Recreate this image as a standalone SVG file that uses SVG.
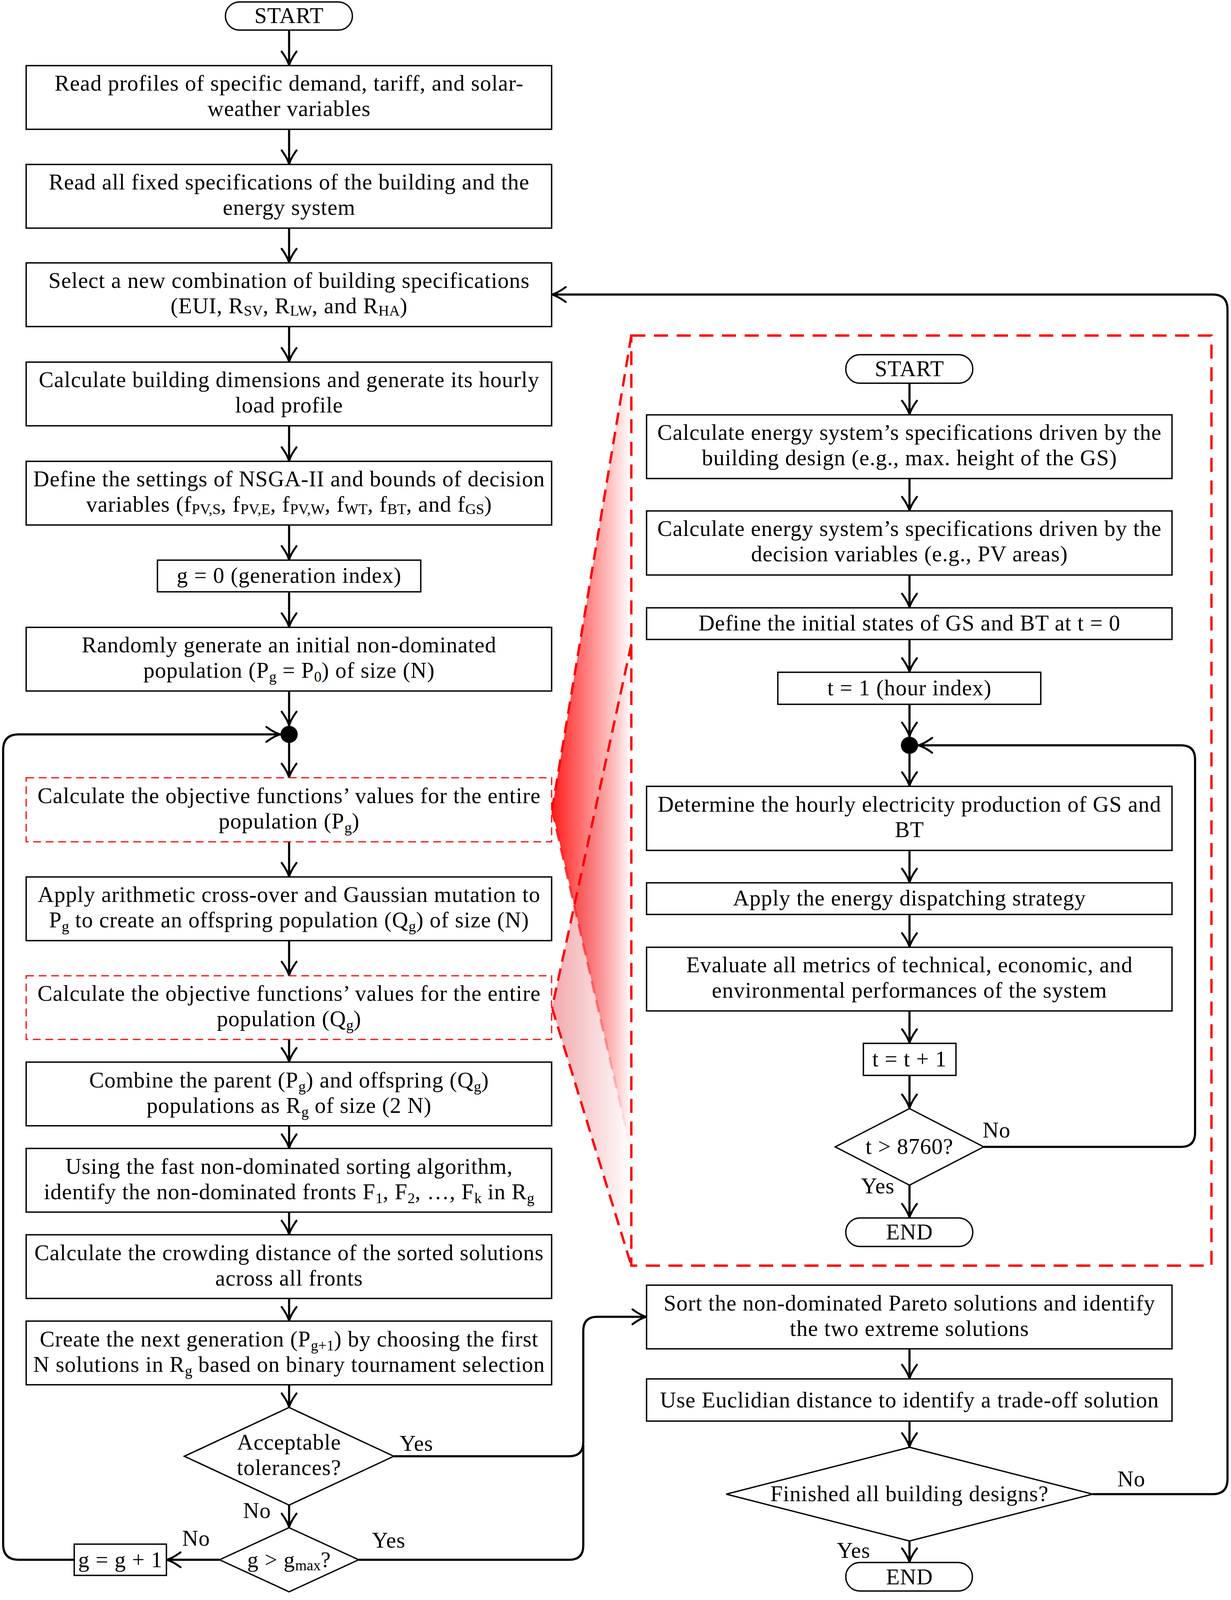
<svg xmlns="http://www.w3.org/2000/svg" width="3151" height="4336" viewBox="0 0 3151 4336">
<style>
.box{fill:#fff;stroke:#000;stroke-width:3.5}
.rbox{fill:#fff;stroke:#ff0000;stroke-width:3;stroke-dasharray:20 12}
.t{font-family:"Liberation Serif","Times New Roman",serif;font-size:57px;letter-spacing:1px;text-anchor:middle;fill:#000}
.s{font-size:38px;letter-spacing:0}
.c{fill:none;stroke:#000;stroke-width:5.5;marker-end:url(#arr)}
.cn{fill:none;stroke:#000;stroke-width:5.5}
.cone{fill:none;stroke:#ff0000;stroke-width:6;stroke-dasharray:32 18}
</style>
<defs>
<marker id="arr" markerUnits="userSpaceOnUse" orient="auto" viewBox="-42 -24 46 48" refX="0" refY="0" markerWidth="46" markerHeight="48">
<path d="M-36,-19 Q-14,-3 0,0 Q-14,3 -36,19" fill="none" stroke="#000" stroke-width="5" stroke-linecap="round"/>
</marker>
<linearGradient id="g1" gradientUnits="userSpaceOnUse" x1="1413" y1="0" x2="1616" y2="0">
<stop offset="0" stop-color="#ff1a1a" stop-opacity="1"/>
<stop offset="1" stop-color="#ff1a1a" stop-opacity="0"/>
</linearGradient>
<linearGradient id="g2" gradientUnits="userSpaceOnUse" x1="1413" y1="0" x2="1616" y2="0">
<stop offset="0" stop-color="#e0303a" stop-opacity="0.42"/>
<stop offset="1" stop-color="#e0303a" stop-opacity="0"/>
</linearGradient>
</defs>
<rect width="3151" height="4336" fill="#fff"/>

<g id="zoom-cones">
<polygon points="1616,859 1413,2073 1616,2950" fill="url(#g1)"/>
<polygon points="1616,1649 1413,2580 1616,3240" fill="url(#g2)"/>
<line class="cone" x1="1616" y1="859" x2="1413" y2="2073"/>
<line class="cone" x1="1413" y1="2073" x2="1616" y2="2950" style="stroke:url(#g1)"/>
<line class="cone" x1="1616" y1="1649" x2="1413" y2="2580"/>
<line class="cone" x1="1413" y1="2580" x2="1616" y2="3240"/>
</g>
<g id="detail-frame">
<rect x="1616" y="859" width="1485" height="2381" fill="none" stroke="#ff0000" stroke-width="6" stroke-dasharray="36 22"/>
</g>

<g id="connectors">
<line class="c" x1="740" y1="77" x2="740" y2="168"/>
<line class="c" x1="740" y1="331" x2="740" y2="421"/>
<line class="c" x1="740" y1="584" x2="740" y2="673"/>
<line class="c" x1="740" y1="836" x2="740" y2="927"/>
<line class="c" x1="740" y1="1090" x2="740" y2="1181"/>
<line class="c" x1="740" y1="1344" x2="740" y2="1434"/>
<line class="c" x1="740" y1="1515" x2="740" y2="1606"/>
<line class="c" x1="740" y1="1769" x2="740" y2="1858"/>
<line class="c" x1="740" y1="1902" x2="740" y2="1991"/>
<line class="c" x1="740" y1="2155" x2="740" y2="2245"/>
<line class="c" x1="740" y1="2408" x2="740" y2="2498"/>
<line class="c" x1="740" y1="2661" x2="740" y2="2719"/>
<line class="c" x1="740" y1="2882" x2="740" y2="2940"/>
<line class="c" x1="740" y1="3103" x2="740" y2="3161"/>
<line class="c" x1="740" y1="3324" x2="740" y2="3382"/>
<line class="c" x1="740" y1="3545" x2="740" y2="3603"/>
<line class="c" x1="740" y1="3853" x2="740" y2="3911"/>
<path class="c" d="M562,3993 H426"/>
<path class="c" d="M190,3993 H48 Q8,3993 8,3953 V1920 Q8,1880 48,1880 H718"/>
<path class="c" d="M1008,3728 H1457 Q1493,3728 1493,3692 V3407 Q1493,3371 1529,3371 H1655"/>
<path class="cn" d="M918,3993 H1457 Q1493,3993 1493,3957 V3700"/>
<line class="c" x1="2328" y1="981" x2="2328" y2="1062"/>
<line class="c" x1="2328" y1="1225" x2="2328" y2="1308"/>
<line class="c" x1="2328" y1="1472" x2="2328" y2="1556"/>
<line class="c" x1="2328" y1="1637" x2="2328" y2="1721"/>
<line class="c" x1="2328" y1="1803" x2="2328" y2="1886"/>
<line class="c" x1="2328" y1="1930" x2="2328" y2="2013"/>
<line class="c" x1="2328" y1="2177" x2="2328" y2="2260"/>
<line class="c" x1="2328" y1="2341" x2="2328" y2="2425"/>
<line class="c" x1="2328" y1="2588" x2="2328" y2="2671"/>
<line class="c" x1="2328" y1="2753" x2="2328" y2="2838"/>
<line class="c" x1="2328" y1="3034" x2="2328" y2="3118"/>
<path class="c" d="M2518,2936 H3023 Q3059,2936 3059,2900 V1944 Q3059,1908 3023,1908 H2350"/>
<line class="c" x1="2328" y1="3453" x2="2328" y2="3530"/>
<line class="c" x1="2328" y1="3638" x2="2328" y2="3705"/>
<line class="c" x1="2328" y1="3945" x2="2328" y2="4000"/>
<path class="c" d="M2797,3825 H3104 Q3142,3825 3142,3787 V792 Q3142,754 3104,754 H1412"/>
</g>

<g id="start"><rect class="box" x="577" y="5" width="325" height="72" rx="36"/><text class="t" x="740" y="59">START</text></g>
<g id="read-profiles"><rect class="box" x="67" y="168" width="1345" height="163"/>
<text class="t" x="740" y="232">Read profiles of specific demand, tariff, and solar-</text>
<text class="t" x="740" y="297">weather variables</text></g>
<g id="read-fixed"><rect class="box" x="67" y="421" width="1345" height="163"/>
<text class="t" x="740" y="485">Read all fixed specifications of the building and the</text>
<text class="t" x="740" y="550">energy system</text></g>
<g id="select-combination"><rect class="box" x="67" y="673" width="1345" height="163"/>
<text class="t" x="740" y="737">Select a new combination of building specifications</text>
<text class="t" x="740" y="802">(EUI, R<tspan class="s" dy="6">SV</tspan><tspan dy="-6">, R</tspan><tspan class="s" dy="6">LW</tspan><tspan dy="-6">, and R</tspan><tspan class="s" dy="6">HA</tspan><tspan dy="-6">)</tspan></text></g>
<g id="building-dimensions"><rect class="box" x="67" y="927" width="1345" height="163"/>
<text class="t" x="740" y="991">Calculate building dimensions and generate its hourly</text>
<text class="t" x="740" y="1056">load profile</text></g>
<g id="nsga-settings"><rect class="box" x="67" y="1181" width="1345" height="163"/>
<text class="t" x="740" y="1245">Define the settings of NSGA-II and bounds of decision</text>
<text class="t" x="740" y="1310">variables (f<tspan class="s" dy="6">PV,S</tspan><tspan dy="-6">, f</tspan><tspan class="s" dy="6">PV,E</tspan><tspan dy="-6">, f</tspan><tspan class="s" dy="6">PV,W</tspan><tspan dy="-6">, f</tspan><tspan class="s" dy="6">WT</tspan><tspan dy="-6">, f</tspan><tspan class="s" dy="6">BT</tspan><tspan dy="-6">, and f</tspan><tspan class="s" dy="6">GS</tspan><tspan dy="-6">)</tspan></text></g>
<g id="g-zero"><rect class="box" x="403" y="1434" width="674" height="81"/>
<text class="t" x="740" y="1492">g = 0 (generation index)</text></g>
<g id="random-init"><rect class="box" x="67" y="1606" width="1345" height="163"/>
<text class="t" x="740" y="1670">Randomly generate an initial non-dominated</text>
<text class="t" x="740" y="1735">population (P<tspan class="s" dy="10">g</tspan><tspan dy="-10"> = P</tspan><tspan class="s" dy="10">0</tspan><tspan dy="-10">) of size (N)</tspan></text></g>
<g id="junction-left"><circle cx="740" cy="1880" r="22" fill="#000"/></g>
<g id="objective-pg"><rect class="rbox" x="67" y="1991" width="1345" height="164"/>
<text class="t" x="740" y="2056">Calculate the objective functions’ values for the entire</text>
<text class="t" x="740" y="2121">population (P<tspan class="s" dy="10">g</tspan><tspan dy="-10">)</tspan></text></g>
<g id="crossover"><rect class="box" x="67" y="2245" width="1345" height="163"/>
<text class="t" x="740" y="2309">Apply arithmetic cross-over and Gaussian mutation to</text>
<text class="t" x="740" y="2374">P<tspan class="s" dy="10">g</tspan><tspan dy="-10"> to create an offspring population (Q</tspan><tspan class="s" dy="10">g</tspan><tspan dy="-10">) of size (N)</tspan></text></g>
<g id="objective-qg"><rect class="rbox" x="67" y="2498" width="1345" height="163"/>
<text class="t" x="740" y="2562">Calculate the objective functions’ values for the entire</text>
<text class="t" x="740" y="2627">population (Q<tspan class="s" dy="10">g</tspan><tspan dy="-10">)</tspan></text></g>
<g id="combine"><rect class="box" x="67" y="2719" width="1345" height="163"/>
<text class="t" x="740" y="2784">Combine the parent (P<tspan class="s" dy="10">g</tspan><tspan dy="-10">) and offspring (Q</tspan><tspan class="s" dy="10">g</tspan><tspan dy="-10">)</tspan></text>
<text class="t" x="740" y="2849">populations as R<tspan class="s" dy="10">g</tspan><tspan dy="-10"> of size (2 N)</tspan></text></g>
<g id="sorting"><rect class="box" x="67" y="2940" width="1345" height="163"/>
<text class="t" x="740" y="3005">Using the fast non-dominated sorting algorithm,</text>
<text class="t" x="740" y="3070">identify the non-dominated fronts F<tspan class="s" dy="10">1</tspan><tspan dy="-10">, F</tspan><tspan class="s" dy="10">2</tspan><tspan dy="-10">, …, F</tspan><tspan class="s" dy="10">k</tspan><tspan dy="-10"> in R</tspan><tspan class="s" dy="10">g</tspan></text></g>
<g id="crowding"><rect class="box" x="67" y="3161" width="1345" height="163"/>
<text class="t" x="740" y="3226">Calculate the crowding distance of the sorted solutions</text>
<text class="t" x="740" y="3291">across all fronts</text></g>
<g id="next-generation"><rect class="box" x="67" y="3382" width="1345" height="163"/>
<text class="t" x="740" y="3447">Create the next generation (P<tspan class="s" dy="10">g+1</tspan><tspan dy="-10">) by choosing the first</tspan></text>
<text class="t" x="740" y="3512">N solutions in R<tspan class="s" dy="10">g</tspan><tspan dy="-10"> based on binary tournament selection</tspan></text></g>
<g id="tolerances"><polygon class="box" points="740,3603 1008,3728 740,3853 472,3728"/>
<text class="t" x="740" y="3711">Acceptable</text>
<text class="t" x="740" y="3776">tolerances?</text></g>
<g id="gmax"><polygon class="box" points="740,3911 918,3993 740,4075 562,3993"/>
<text class="t" x="740" y="4012">g &gt; g<tspan class="s" dy="8">max</tspan><tspan dy="-8">?</tspan></text></g>
<g id="g-increment"><rect class="box" x="190" y="3953" width="236" height="80"/>
<text class="t" x="308" y="4012">g = g + 1</text></g>
<g id="labels-left">
<text class="t" x="1066" y="3714">Yes</text>
<text class="t" x="658" y="3886">No</text>
<text class="t" x="502" y="3957">No</text>
<text class="t" x="995" y="3962">Yes</text>
</g>

<g id="start-inner"><rect class="box" x="2165" y="908" width="325" height="73" rx="36"/><text class="t" x="2328" y="963">START</text></g>
<g id="spec-design"><rect class="box" x="1655" y="1062" width="1345" height="163"/>
<text class="t" x="2328" y="1126">Calculate energy system’s specifications driven by the</text>
<text class="t" x="2328" y="1191">building design (e.g., max. height of the GS)</text></g>
<g id="spec-decision"><rect class="box" x="1655" y="1308" width="1345" height="164"/>
<text class="t" x="2328" y="1372">Calculate energy system’s specifications driven by the</text>
<text class="t" x="2328" y="1437">decision variables (e.g., PV areas)</text></g>
<g id="initial-states"><rect class="box" x="1655" y="1556" width="1345" height="81"/>
<text class="t" x="2328" y="1614">Define the initial states of GS and BT at t = 0</text></g>
<g id="t-one"><rect class="box" x="1991" y="1721" width="673" height="82"/>
<text class="t" x="2328" y="1780">t = 1 (hour index)</text></g>
<g id="junction-right"><circle cx="2328" cy="1908" r="22" fill="#000"/></g>
<g id="hourly-production"><rect class="box" x="1655" y="2013" width="1345" height="164"/>
<text class="t" x="2328" y="2078">Determine the hourly electricity production of GS and</text>
<text class="t" x="2328" y="2143">BT</text></g>
<g id="dispatch"><rect class="box" x="1655" y="2260" width="1345" height="81"/>
<text class="t" x="2328" y="2318">Apply the energy dispatching strategy</text></g>
<g id="evaluate"><rect class="box" x="1655" y="2425" width="1345" height="163"/>
<text class="t" x="2328" y="2489">Evaluate all metrics of technical, economic, and</text>
<text class="t" x="2328" y="2554">environmental performances of the system</text></g>
<g id="t-increment"><rect class="box" x="2210" y="2671" width="237" height="82"/>
<text class="t" x="2328" y="2730">t = t + 1</text></g>
<g id="t-check"><polygon class="box" points="2328,2838 2518,2936 2328,3034 2138,2936"/>
<text class="t" x="2328" y="2954">t &gt; 8760?</text></g>
<g id="end-inner"><rect class="box" x="2165" y="3118" width="325" height="73" rx="36"/><text class="t" x="2328" y="3173">END</text></g>
<g id="labels-inner">
<text class="t" x="2551" y="2912">No</text>
<text class="t" x="2247" y="3055">Yes</text>
</g>

<g id="sort-pareto"><rect class="box" x="1655" y="3290" width="1345" height="163"/>
<text class="t" x="2328" y="3355">Sort the non-dominated Pareto solutions and identify</text>
<text class="t" x="2328" y="3420">the two extreme solutions</text></g>
<g id="euclidian"><rect class="box" x="1655" y="3530" width="1345" height="108"/>
<text class="t" x="2328" y="3603">Use Euclidian distance to identify a trade-off solution</text></g>
<g id="finished"><polygon class="box" points="2328,3705 2797,3825 2328,3945 1859,3825"/>
<text class="t" x="2328" y="3843">Finished all building designs?</text></g>
<g id="end"><rect class="box" x="2165" y="4000" width="324" height="73" rx="36"/><text class="t" x="2328" y="4056">END</text></g>
<g id="labels-right">
<text class="t" x="2896" y="3805">No</text>
<text class="t" x="2185" y="3988">Yes</text>
</g>
</svg>
